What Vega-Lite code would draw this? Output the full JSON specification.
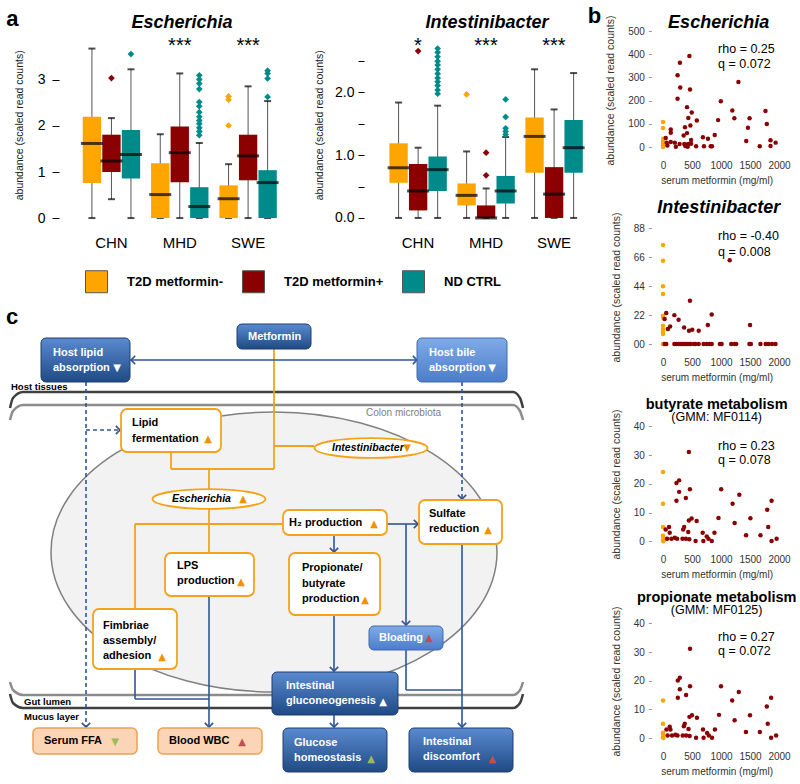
{
"$schema": "https://vega.github.io/schema/vega-lite/v6.json",
"background": "white",
"padding": {"left": 5, "top": 4, "right": 0, "bottom": 0},
"config": {
  "font": "Liberation Sans",
  "view": {"stroke": null},
  "axis": {"grid": false, "domain": false, "labelFont": "Liberation Sans", "titleFont": "Liberation Sans", "titleFontWeight": "normal", "labelFlush": false, "labelOverlap": false},
  "title": {"font": "Liberation Sans", "color": "black", "subtitleFont": "Liberation Sans", "subtitleColor": "black"},
  "legend": {"labelFont": "Liberation Sans"},
  "text": {"font": "Liberation Sans"}
},
"datasets": {
  "boxE": [
    {"cohort": "CHN", "group": "T2D metformin-", "lo": 0, "q1": 0.76, "med": 1.62, "q3": 2.20, "hi": 3.68},
    {"cohort": "CHN", "group": "T2D metformin+", "lo": 0.41, "q1": 1.0, "med": 1.24, "q3": 1.81, "hi": 2.17},
    {"cohort": "CHN", "group": "ND CTRL", "lo": 0, "q1": 0.86, "med": 1.38, "q3": 1.91, "hi": 3.23},
    {"cohort": "MHD", "group": "T2D metformin-", "lo": 0, "q1": 0, "med": 0.51, "q3": 1.19, "hi": 1.82},
    {"cohort": "MHD", "group": "T2D metformin+", "lo": 0, "q1": 0.78, "med": 1.42, "q3": 1.99, "hi": 3.14},
    {"cohort": "MHD", "group": "ND CTRL", "lo": 0, "q1": 0, "med": 0.25, "q3": 0.67, "hi": 1.63},
    {"cohort": "SWE", "group": "T2D metformin-", "lo": 0, "q1": 0, "med": 0.42, "q3": 0.71, "hi": 1.17},
    {"cohort": "SWE", "group": "T2D metformin+", "lo": 0, "q1": 0.82, "med": 1.35, "q3": 1.81, "hi": 2.86},
    {"cohort": "SWE", "group": "ND CTRL", "lo": 0, "q1": 0, "med": 0.77, "q3": 1.04, "hi": 2.54}
  ],
  "outE": [
    {"cohort": "CHN", "group": "T2D metformin+", "value": 3.04},
    {"cohort": "CHN", "group": "ND CTRL", "value": 3.56},
    {"cohort": "MHD", "group": "ND CTRL", "value": 3.10},
    {"cohort": "MHD", "group": "ND CTRL", "value": 3.01},
    {"cohort": "MHD", "group": "ND CTRL", "value": 2.92},
    {"cohort": "MHD", "group": "ND CTRL", "value": 2.80},
    {"cohort": "MHD", "group": "ND CTRL", "value": 2.52},
    {"cohort": "MHD", "group": "ND CTRL", "value": 2.43},
    {"cohort": "MHD", "group": "ND CTRL", "value": 2.30},
    {"cohort": "MHD", "group": "ND CTRL", "value": 2.20},
    {"cohort": "MHD", "group": "ND CTRL", "value": 2.12},
    {"cohort": "MHD", "group": "ND CTRL", "value": 2.05},
    {"cohort": "MHD", "group": "ND CTRL", "value": 1.96},
    {"cohort": "MHD", "group": "ND CTRL", "value": 1.88},
    {"cohort": "MHD", "group": "ND CTRL", "value": 1.80},
    {"cohort": "SWE", "group": "T2D metformin-", "value": 2.64},
    {"cohort": "SWE", "group": "T2D metformin-", "value": 2.57},
    {"cohort": "SWE", "group": "T2D metformin-", "value": 2.01},
    {"cohort": "SWE", "group": "ND CTRL", "value": 3.20},
    {"cohort": "SWE", "group": "ND CTRL", "value": 3.14},
    {"cohort": "SWE", "group": "ND CTRL", "value": 3.03},
    {"cohort": "SWE", "group": "ND CTRL", "value": 2.63}
  ],
  "starsE": [{"cohort": "MHD", "label": "***"}, {"cohort": "SWE", "label": "***"}],
  "boxI": [
    {"cohort": "CHN", "group": "T2D metformin-", "lo": 0, "q1": 0.56, "med": 0.80, "q3": 1.19, "hi": 1.84},
    {"cohort": "CHN", "group": "T2D metformin+", "lo": 0, "q1": 0.12, "med": 0.43, "q3": 0.86, "hi": 1.12},
    {"cohort": "CHN", "group": "ND CTRL", "lo": 0, "q1": 0.43, "med": 0.77, "q3": 0.98, "hi": 1.79},
    {"cohort": "MHD", "group": "T2D metformin-", "lo": 0, "q1": 0.20, "med": 0.36, "q3": 0.55, "hi": 1.06},
    {"cohort": "MHD", "group": "T2D metformin+", "lo": 0, "q1": 0, "med": 0, "q3": 0.20, "hi": 0.47},
    {"cohort": "MHD", "group": "ND CTRL", "lo": 0, "q1": 0.23, "med": 0.43, "q3": 0.67, "hi": 1.29},
    {"cohort": "SWE", "group": "T2D metformin-", "lo": 0, "q1": 0.72, "med": 1.30, "q3": 1.60, "hi": 2.37},
    {"cohort": "SWE", "group": "T2D metformin+", "lo": 0, "q1": 0, "med": 0.38, "q3": 0.81, "hi": 1.73},
    {"cohort": "SWE", "group": "ND CTRL", "lo": 0, "q1": 0.72, "med": 1.12, "q3": 1.56, "hi": 2.31}
  ],
  "outI": [
    {"cohort": "CHN", "group": "T2D metformin+", "value": 2.66},
    {"cohort": "CHN", "group": "ND CTRL", "value": 2.70},
    {"cohort": "CHN", "group": "ND CTRL", "value": 2.64},
    {"cohort": "CHN", "group": "ND CTRL", "value": 2.57},
    {"cohort": "CHN", "group": "ND CTRL", "value": 2.50},
    {"cohort": "CHN", "group": "ND CTRL", "value": 2.44},
    {"cohort": "CHN", "group": "ND CTRL", "value": 2.37},
    {"cohort": "CHN", "group": "ND CTRL", "value": 2.30},
    {"cohort": "CHN", "group": "ND CTRL", "value": 2.23},
    {"cohort": "CHN", "group": "ND CTRL", "value": 2.17},
    {"cohort": "CHN", "group": "ND CTRL", "value": 2.11},
    {"cohort": "CHN", "group": "ND CTRL", "value": 2.04},
    {"cohort": "CHN", "group": "ND CTRL", "value": 1.98},
    {"cohort": "MHD", "group": "T2D metformin-", "value": 1.97},
    {"cohort": "MHD", "group": "T2D metformin+", "value": 1.04},
    {"cohort": "MHD", "group": "T2D metformin+", "value": 0.68},
    {"cohort": "MHD", "group": "ND CTRL", "value": 1.89},
    {"cohort": "MHD", "group": "ND CTRL", "value": 1.61},
    {"cohort": "MHD", "group": "ND CTRL", "value": 1.43},
    {"cohort": "MHD", "group": "ND CTRL", "value": 1.38},
    {"cohort": "MHD", "group": "ND CTRL", "value": 1.33}
  ],
  "starsI": [{"cohort": "CHN", "label": "*"}, {"cohort": "MHD", "label": "***"}, {"cohort": "SWE", "label": "***"}],
  "scE": [
    {"metformin": 0, "abundance": 108, "group": "T2D metformin-"},
    {"metformin": 0, "abundance": 82, "group": "T2D metformin-"},
    {"metformin": 5, "abundance": 36, "group": "T2D metformin-"},
    {"metformin": 0, "abundance": 24, "group": "T2D metformin-"},
    {"metformin": 5, "abundance": 17, "group": "T2D metformin-"},
    {"metformin": 0, "abundance": 10, "group": "T2D metformin-"},
    {"metformin": 5, "abundance": 4, "group": "T2D metformin-"},
    {"metformin": 0, "abundance": 0, "group": "T2D metformin-"},
    {"metformin": 455, "abundance": 392, "group": "T2D metformin+"},
    {"metformin": 292, "abundance": 363, "group": "T2D metformin+"},
    {"metformin": 251, "abundance": 309, "group": "T2D metformin+"},
    {"metformin": 297, "abundance": 257, "group": "T2D metformin+"},
    {"metformin": 466, "abundance": 248, "group": "T2D metformin+"},
    {"metformin": 251, "abundance": 208, "group": "T2D metformin+"},
    {"metformin": 1300, "abundance": 280, "group": "T2D metformin+"},
    {"metformin": 997, "abundance": 197, "group": "T2D metformin+"},
    {"metformin": 414, "abundance": 172, "group": "T2D metformin+"},
    {"metformin": 1195, "abundance": 157, "group": "T2D metformin+"},
    {"metformin": 1767, "abundance": 155, "group": "T2D metformin+"},
    {"metformin": 496, "abundance": 149, "group": "T2D metformin+"},
    {"metformin": 437, "abundance": 125, "group": "T2D metformin+"},
    {"metformin": 583, "abundance": 114, "group": "T2D metformin+"},
    {"metformin": 1230, "abundance": 124, "group": "T2D metformin+"},
    {"metformin": 1493, "abundance": 124, "group": "T2D metformin+"},
    {"metformin": 950, "abundance": 116, "group": "T2D metformin+"},
    {"metformin": 1790, "abundance": 99, "group": "T2D metformin+"},
    {"metformin": 379, "abundance": 85, "group": "T2D metformin+"},
    {"metformin": 1464, "abundance": 83, "group": "T2D metformin+"},
    {"metformin": 472, "abundance": 93, "group": "T2D metformin+"},
    {"metformin": 134, "abundance": 76, "group": "T2D metformin+"},
    {"metformin": 134, "abundance": 62, "group": "T2D metformin+"},
    {"metformin": 356, "abundance": 50, "group": "T2D metformin+"},
    {"metformin": 414, "abundance": 60, "group": "T2D metformin+"},
    {"metformin": 892, "abundance": 52, "group": "T2D metformin+"},
    {"metformin": 688, "abundance": 42, "group": "T2D metformin+"},
    {"metformin": 776, "abundance": 36, "group": "T2D metformin+"},
    {"metformin": 47, "abundance": 39, "group": "T2D metformin+"},
    {"metformin": 484, "abundance": 30, "group": "T2D metformin+"},
    {"metformin": 1435, "abundance": 26, "group": "T2D metformin+"},
    {"metformin": 1854, "abundance": 29, "group": "T2D metformin+"},
    {"metformin": 1942, "abundance": 19, "group": "T2D metformin+"},
    {"metformin": 134, "abundance": 22, "group": "T2D metformin+"},
    {"metformin": 204, "abundance": 19, "group": "T2D metformin+"},
    {"metformin": 286, "abundance": 13, "group": "T2D metformin+"},
    {"metformin": 367, "abundance": 13, "group": "T2D metformin+"},
    {"metformin": 414, "abundance": 10, "group": "T2D metformin+"},
    {"metformin": 437, "abundance": 13, "group": "T2D metformin+"},
    {"metformin": 484, "abundance": 14, "group": "T2D metformin+"},
    {"metformin": 76, "abundance": 7, "group": "T2D metformin+"},
    {"metformin": 222, "abundance": 1, "group": "T2D metformin+"},
    {"metformin": 385, "abundance": 4, "group": "T2D metformin+"},
    {"metformin": 426, "abundance": 1, "group": "T2D metformin+"},
    {"metformin": 571, "abundance": 3, "group": "T2D metformin+"},
    {"metformin": 706, "abundance": 3, "group": "T2D metformin+"},
    {"metformin": 822, "abundance": 3, "group": "T2D metformin+"},
    {"metformin": 845, "abundance": 3, "group": "T2D metformin+"},
    {"metformin": 1668, "abundance": 3, "group": "T2D metformin+"},
    {"metformin": 1854, "abundance": 4, "group": "T2D metformin+"},
    {"metformin": 64, "abundance": 19, "group": "T2D metformin+"}
  ],
  "scI": [
    {"metformin": 0, "abundance": 6.85, "group": "T2D metformin-"},
    {"metformin": 0, "abundance": 5.76, "group": "T2D metformin-"},
    {"metformin": 0, "abundance": 3.99, "group": "T2D metformin-"},
    {"metformin": 0, "abundance": 3.46, "group": "T2D metformin-"},
    {"metformin": 0, "abundance": 1.96, "group": "T2D metformin-"},
    {"metformin": 0, "abundance": 1.84, "group": "T2D metformin-"},
    {"metformin": 0, "abundance": 1.27, "group": "T2D metformin-"},
    {"metformin": 0, "abundance": 1.04, "group": "T2D metformin-"},
    {"metformin": 0, "abundance": 0.85, "group": "T2D metformin-"},
    {"metformin": 0, "abundance": 0.69, "group": "T2D metformin-"},
    {"metformin": 0, "abundance": 0, "group": "T2D metformin-"},
    {"metformin": 5, "abundance": 0, "group": "T2D metformin-"},
    {"metformin": 1150, "abundance": 5.8, "group": "T2D metformin+"},
    {"metformin": 465, "abundance": 3.0, "group": "T2D metformin+"},
    {"metformin": 840, "abundance": 2.05, "group": "T2D metformin+"},
    {"metformin": 773, "abundance": 1.31, "group": "T2D metformin+"},
    {"metformin": 1501, "abundance": 1.31, "group": "T2D metformin+"},
    {"metformin": 56, "abundance": 2.14, "group": "T2D metformin+"},
    {"metformin": 28, "abundance": 1.73, "group": "T2D metformin+"},
    {"metformin": 196, "abundance": 2.0, "group": "T2D metformin+"},
    {"metformin": 269, "abundance": 1.68, "group": "T2D metformin+"},
    {"metformin": 364, "abundance": 1.15, "group": "T2D metformin+"},
    {"metformin": 123, "abundance": 1.22, "group": "T2D metformin+"},
    {"metformin": 84, "abundance": 1.04, "group": "T2D metformin+"},
    {"metformin": 448, "abundance": 0.92, "group": "T2D metformin+"},
    {"metformin": 504, "abundance": 0.99, "group": "T2D metformin+"},
    {"metformin": 616, "abundance": 0.92, "group": "T2D metformin+"},
    {"metformin": 28, "abundance": 0, "group": "T2D metformin+"},
    {"metformin": 56, "abundance": 0, "group": "T2D metformin+"},
    {"metformin": 196, "abundance": 0, "group": "T2D metformin+"},
    {"metformin": 230, "abundance": 0, "group": "T2D metformin+"},
    {"metformin": 269, "abundance": 0, "group": "T2D metformin+"},
    {"metformin": 300, "abundance": 0, "group": "T2D metformin+"},
    {"metformin": 330, "abundance": 0, "group": "T2D metformin+"},
    {"metformin": 364, "abundance": 0, "group": "T2D metformin+"},
    {"metformin": 392, "abundance": 0, "group": "T2D metformin+"},
    {"metformin": 420, "abundance": 0, "group": "T2D metformin+"},
    {"metformin": 448, "abundance": 0, "group": "T2D metformin+"},
    {"metformin": 476, "abundance": 0, "group": "T2D metformin+"},
    {"metformin": 532, "abundance": 0, "group": "T2D metformin+"},
    {"metformin": 560, "abundance": 0, "group": "T2D metformin+"},
    {"metformin": 616, "abundance": 0, "group": "T2D metformin+"},
    {"metformin": 700, "abundance": 0, "group": "T2D metformin+"},
    {"metformin": 756, "abundance": 0, "group": "T2D metformin+"},
    {"metformin": 800, "abundance": 0, "group": "T2D metformin+"},
    {"metformin": 840, "abundance": 0, "group": "T2D metformin+"},
    {"metformin": 980, "abundance": 0, "group": "T2D metformin+"},
    {"metformin": 1010, "abundance": 0, "group": "T2D metformin+"},
    {"metformin": 1176, "abundance": 0, "group": "T2D metformin+"},
    {"metformin": 1232, "abundance": 0, "group": "T2D metformin+"},
    {"metformin": 1262, "abundance": 0, "group": "T2D metformin+"},
    {"metformin": 1490, "abundance": 0, "group": "T2D metformin+"},
    {"metformin": 1515, "abundance": 0, "group": "T2D metformin+"},
    {"metformin": 1680, "abundance": 0, "group": "T2D metformin+"},
    {"metformin": 1770, "abundance": 0, "group": "T2D metformin+"},
    {"metformin": 1820, "abundance": 0, "group": "T2D metformin+"},
    {"metformin": 1880, "abundance": 0, "group": "T2D metformin+"},
    {"metformin": 1940, "abundance": 0, "group": "T2D metformin+"}
  ],
  "scB": [
    {"metformin": 0, "abundance": 24.1, "group": "T2D metformin-"},
    {"metformin": 0, "abundance": 13.1, "group": "T2D metformin-"},
    {"metformin": 0, "abundance": 5.0, "group": "T2D metformin-"},
    {"metformin": 0, "abundance": 1.9, "group": "T2D metformin-"},
    {"metformin": 5, "abundance": 1.2, "group": "T2D metformin-"},
    {"metformin": 0, "abundance": 0.3, "group": "T2D metformin-"},
    {"metformin": 5, "abundance": 0, "group": "T2D metformin-"},
    {"metformin": 446, "abundance": 31.1, "group": "T2D metformin+"},
    {"metformin": 278, "abundance": 21.2, "group": "T2D metformin+"},
    {"metformin": 232, "abundance": 20.3, "group": "T2D metformin+"},
    {"metformin": 278, "abundance": 17.2, "group": "T2D metformin+"},
    {"metformin": 464, "abundance": 18.1, "group": "T2D metformin+"},
    {"metformin": 1003, "abundance": 18.1, "group": "T2D metformin+"},
    {"metformin": 1316, "abundance": 16.2, "group": "T2D metformin+"},
    {"metformin": 232, "abundance": 14.1, "group": "T2D metformin+"},
    {"metformin": 394, "abundance": 15.1, "group": "T2D metformin+"},
    {"metformin": 1200, "abundance": 13.1, "group": "T2D metformin+"},
    {"metformin": 1872, "abundance": 14.1, "group": "T2D metformin+"},
    {"metformin": 1797, "abundance": 11.0, "group": "T2D metformin+"},
    {"metformin": 1507, "abundance": 8.0, "group": "T2D metformin+"},
    {"metformin": 957, "abundance": 8.1, "group": "T2D metformin+"},
    {"metformin": 1235, "abundance": 6.4, "group": "T2D metformin+"},
    {"metformin": 493, "abundance": 7.9, "group": "T2D metformin+"},
    {"metformin": 446, "abundance": 7.2, "group": "T2D metformin+"},
    {"metformin": 580, "abundance": 7.1, "group": "T2D metformin+"},
    {"metformin": 365, "abundance": 5.0, "group": "T2D metformin+"},
    {"metformin": 1814, "abundance": 5.0, "group": "T2D metformin+"},
    {"metformin": 104, "abundance": 5.0, "group": "T2D metformin+"},
    {"metformin": 348, "abundance": 4.1, "group": "T2D metformin+"},
    {"metformin": 46, "abundance": 4.1, "group": "T2D metformin+"},
    {"metformin": 684, "abundance": 3.0, "group": "T2D metformin+"},
    {"metformin": 887, "abundance": 3.0, "group": "T2D metformin+"},
    {"metformin": 435, "abundance": 3.2, "group": "T2D metformin+"},
    {"metformin": 1432, "abundance": 2.1, "group": "T2D metformin+"},
    {"metformin": 1681, "abundance": 2.1, "group": "T2D metformin+"},
    {"metformin": 116, "abundance": 3.0, "group": "T2D metformin+"},
    {"metformin": 754, "abundance": 1.7, "group": "T2D metformin+"},
    {"metformin": 783, "abundance": 0.9, "group": "T2D metformin+"},
    {"metformin": 841, "abundance": 0.1, "group": "T2D metformin+"},
    {"metformin": 696, "abundance": 0.1, "group": "T2D metformin+"},
    {"metformin": 562, "abundance": 0.1, "group": "T2D metformin+"},
    {"metformin": 394, "abundance": 0.9, "group": "T2D metformin+"},
    {"metformin": 452, "abundance": 0.7, "group": "T2D metformin+"},
    {"metformin": 203, "abundance": 1.2, "group": "T2D metformin+"},
    {"metformin": 145, "abundance": 0.9, "group": "T2D metformin+"},
    {"metformin": 70, "abundance": 0.9, "group": "T2D metformin+"},
    {"metformin": 243, "abundance": 0.9, "group": "T2D metformin+"},
    {"metformin": 336, "abundance": 0.9, "group": "T2D metformin+"},
    {"metformin": 1872, "abundance": 0.1, "group": "T2D metformin+"},
    {"metformin": 1959, "abundance": 0.9, "group": "T2D metformin+"}
  ],
  "scP": [
    {"metformin": 0, "abundance": 13.1, "group": "T2D metformin-"},
    {"metformin": 0, "abundance": 5.0, "group": "T2D metformin-"},
    {"metformin": 0, "abundance": 1.9, "group": "T2D metformin-"},
    {"metformin": 5, "abundance": 1.2, "group": "T2D metformin-"},
    {"metformin": 0, "abundance": 0.3, "group": "T2D metformin-"},
    {"metformin": 5, "abundance": 0, "group": "T2D metformin-"},
    {"metformin": 466, "abundance": 31.1, "group": "T2D metformin+"},
    {"metformin": 290, "abundance": 21.0, "group": "T2D metformin+"},
    {"metformin": 256, "abundance": 20.1, "group": "T2D metformin+"},
    {"metformin": 290, "abundance": 17.0, "group": "T2D metformin+"},
    {"metformin": 466, "abundance": 18.1, "group": "T2D metformin+"},
    {"metformin": 1000, "abundance": 18.1, "group": "T2D metformin+"},
    {"metformin": 1307, "abundance": 16.1, "group": "T2D metformin+"},
    {"metformin": 256, "abundance": 14.1, "group": "T2D metformin+"},
    {"metformin": 398, "abundance": 15.0, "group": "T2D metformin+"},
    {"metformin": 1193, "abundance": 13.1, "group": "T2D metformin+"},
    {"metformin": 1864, "abundance": 14.1, "group": "T2D metformin+"},
    {"metformin": 1790, "abundance": 11.0, "group": "T2D metformin+"},
    {"metformin": 1500, "abundance": 8.0, "group": "T2D metformin+"},
    {"metformin": 966, "abundance": 8.1, "group": "T2D metformin+"},
    {"metformin": 1235, "abundance": 6.2, "group": "T2D metformin+"},
    {"metformin": 500, "abundance": 8.0, "group": "T2D metformin+"},
    {"metformin": 456, "abundance": 7.4, "group": "T2D metformin+"},
    {"metformin": 585, "abundance": 7.1, "group": "T2D metformin+"},
    {"metformin": 375, "abundance": 5.0, "group": "T2D metformin+"},
    {"metformin": 1806, "abundance": 5.0, "group": "T2D metformin+"},
    {"metformin": 116, "abundance": 4.0, "group": "T2D metformin+"},
    {"metformin": 360, "abundance": 4.1, "group": "T2D metformin+"},
    {"metformin": 60, "abundance": 3.0, "group": "T2D metformin+"},
    {"metformin": 690, "abundance": 3.0, "group": "T2D metformin+"},
    {"metformin": 895, "abundance": 3.0, "group": "T2D metformin+"},
    {"metformin": 440, "abundance": 3.2, "group": "T2D metformin+"},
    {"metformin": 1430, "abundance": 2.1, "group": "T2D metformin+"},
    {"metformin": 1670, "abundance": 2.1, "group": "T2D metformin+"},
    {"metformin": 128, "abundance": 3.0, "group": "T2D metformin+"},
    {"metformin": 760, "abundance": 1.8, "group": "T2D metformin+"},
    {"metformin": 790, "abundance": 0.9, "group": "T2D metformin+"},
    {"metformin": 845, "abundance": 0.1, "group": "T2D metformin+"},
    {"metformin": 700, "abundance": 0.1, "group": "T2D metformin+"},
    {"metformin": 570, "abundance": 0.1, "group": "T2D metformin+"},
    {"metformin": 400, "abundance": 0.9, "group": "T2D metformin+"},
    {"metformin": 460, "abundance": 0.7, "group": "T2D metformin+"},
    {"metformin": 215, "abundance": 1.2, "group": "T2D metformin+"},
    {"metformin": 155, "abundance": 0.9, "group": "T2D metformin+"},
    {"metformin": 80, "abundance": 0.9, "group": "T2D metformin+"},
    {"metformin": 250, "abundance": 0.9, "group": "T2D metformin+"},
    {"metformin": 340, "abundance": 0.9, "group": "T2D metformin+"},
    {"metformin": 1864, "abundance": 0.1, "group": "T2D metformin+"},
    {"metformin": 1950, "abundance": 0.9, "group": "T2D metformin+"}
  ],
  "dgBoxes": [
    {"name": "Metformin", "kind": "dark", "x1": 236, "x2": 310, "y1": 322, "y2": 347},
    {"name": "Host lipid absorption", "kind": "dark", "x1": 40, "x2": 129, "y1": 336, "y2": 380},
    {"name": "Host bile absorption", "kind": "light", "x1": 416, "x2": 506, "y1": 336, "y2": 380},
    {"name": "Lipid fermentation", "kind": "microbe", "x1": 120, "x2": 220, "y1": 407, "y2": 450},
    {"name": "Sulfate reduction", "kind": "microbe", "x1": 418, "x2": 501, "y1": 498, "y2": 542},
    {"name": "H2 production", "kind": "microbe", "x1": 282, "x2": 386, "y1": 508, "y2": 533},
    {"name": "LPS production", "kind": "microbe", "x1": 164, "x2": 253, "y1": 551, "y2": 594},
    {"name": "Propionate/butyrate production", "kind": "microbe", "x1": 288, "x2": 379, "y1": 551, "y2": 613},
    {"name": "Fimbriae assembly/adhesion", "kind": "microbe", "x1": 92, "x2": 176, "y1": 607, "y2": 667},
    {"name": "Bloating", "kind": "light", "x1": 368, "x2": 442, "y1": 624, "y2": 648},
    {"name": "Intestinal gluconeogenesis", "kind": "dark", "x1": 271, "x2": 397, "y1": 670, "y2": 713},
    {"name": "Serum FFA", "kind": "blood", "x1": 32, "x2": 136, "y1": 726, "y2": 752},
    {"name": "Blood WBC", "kind": "blood", "x1": 157, "x2": 261, "y1": 726, "y2": 752},
    {"name": "Glucose homeostasis", "kind": "dark", "x1": 282, "x2": 386, "y1": 726, "y2": 770},
    {"name": "Intestinal discomfort", "kind": "dark", "x1": 408, "x2": 512, "y1": 726, "y2": 770}
  ],
  "dgLinks": [
    {"kind": "orange", "x1": 273, "y1": 347, "x2": 273, "y2": 467},
    {"kind": "orange", "x1": 273, "y1": 444, "x2": 313, "y2": 444},
    {"kind": "orange", "x1": 170, "y1": 450, "x2": 170, "y2": 467},
    {"kind": "orange", "x1": 170, "y1": 467, "x2": 273, "y2": 467},
    {"kind": "orange", "x1": 208, "y1": 467, "x2": 208, "y2": 487},
    {"kind": "orange", "x1": 208, "y1": 507, "x2": 208, "y2": 551},
    {"kind": "orange", "x1": 134, "y1": 522, "x2": 282, "y2": 522},
    {"kind": "orange", "x1": 134, "y1": 522, "x2": 134, "y2": 607},
    {"kind": "blue", "x1": 130, "y1": 358, "x2": 416, "y2": 358},
    {"kind": "blue", "x1": 333, "y1": 533, "x2": 333, "y2": 550},
    {"kind": "blue", "x1": 386, "y1": 522, "x2": 417, "y2": 522},
    {"kind": "blue", "x1": 405, "y1": 522, "x2": 405, "y2": 623},
    {"kind": "blue", "x1": 461, "y1": 542, "x2": 461, "y2": 725},
    {"kind": "blue", "x1": 405, "y1": 648, "x2": 405, "y2": 688},
    {"kind": "blue", "x1": 405, "y1": 688, "x2": 461, "y2": 688},
    {"kind": "blue", "x1": 208, "y1": 594, "x2": 208, "y2": 725},
    {"kind": "blue", "x1": 134, "y1": 667, "x2": 134, "y2": 697},
    {"kind": "blue", "x1": 134, "y1": 697, "x2": 208, "y2": 697},
    {"kind": "blue", "x1": 333, "y1": 613, "x2": 333, "y2": 669},
    {"kind": "blue", "x1": 333, "y1": 713, "x2": 333, "y2": 725},
    {"kind": "dashed", "x1": 85, "y1": 380, "x2": 85, "y2": 725},
    {"kind": "dashed", "x1": 85, "y1": 428, "x2": 118, "y2": 428},
    {"kind": "dashed", "x1": 461, "y1": 380, "x2": 461, "y2": 497}
  ],
  "dgArrows": [
    {"x": 130, "y": 358, "dir": "left"},
    {"x": 416, "y": 358, "dir": "right"},
    {"x": 333, "y": 550, "dir": "down"},
    {"x": 417, "y": 522, "dir": "right"},
    {"x": 405, "y": 623, "dir": "down"},
    {"x": 461, "y": 725, "dir": "down"},
    {"x": 208, "y": 725, "dir": "down"},
    {"x": 333, "y": 669, "dir": "down"},
    {"x": 333, "y": 725, "dir": "down"},
    {"x": 85, "y": 725, "dir": "down"},
    {"x": 119, "y": 428, "dir": "right"},
    {"x": 461, "y": 497, "dir": "down"}
  ],
  "dgBrackets": [
    {"id": "host tissues", "tone": "dark", "ord": 1, "x": 9, "y": 406},
    {"id": "host tissues", "tone": "dark", "ord": 2, "x": 12, "y": 396},
    {"id": "host tissues", "tone": "dark", "ord": 3, "x": 22, "y": 390},
    {"id": "host tissues", "tone": "dark", "ord": 4, "x": 512, "y": 390},
    {"id": "host tissues", "tone": "dark", "ord": 5, "x": 519, "y": 396},
    {"id": "host tissues", "tone": "dark", "ord": 6, "x": 522, "y": 406},
    {"id": "colon", "tone": "gray", "ord": 1, "x": 9, "y": 418},
    {"id": "colon", "tone": "gray", "ord": 2, "x": 12, "y": 409},
    {"id": "colon", "tone": "gray", "ord": 3, "x": 22, "y": 403},
    {"id": "colon", "tone": "gray", "ord": 4, "x": 512, "y": 403},
    {"id": "colon", "tone": "gray", "ord": 5, "x": 519, "y": 409},
    {"id": "colon", "tone": "gray", "ord": 6, "x": 522, "y": 418},
    {"id": "gut lumen", "tone": "gray", "ord": 1, "x": 9, "y": 680},
    {"id": "gut lumen", "tone": "gray", "ord": 2, "x": 12, "y": 688},
    {"id": "gut lumen", "tone": "gray", "ord": 3, "x": 22, "y": 693},
    {"id": "gut lumen", "tone": "gray", "ord": 4, "x": 512, "y": 693},
    {"id": "gut lumen", "tone": "gray", "ord": 5, "x": 519, "y": 688},
    {"id": "gut lumen", "tone": "gray", "ord": 6, "x": 522, "y": 680},
    {"id": "mucus", "tone": "dark", "ord": 1, "x": 9, "y": 692},
    {"id": "mucus", "tone": "dark", "ord": 2, "x": 12, "y": 701},
    {"id": "mucus", "tone": "dark", "ord": 3, "x": 22, "y": 706},
    {"id": "mucus", "tone": "dark", "ord": 4, "x": 512, "y": 706},
    {"id": "mucus", "tone": "dark", "ord": 5, "x": 519, "y": 701},
    {"id": "mucus", "tone": "dark", "ord": 6, "x": 522, "y": 692}
  ],
  "dgTexts": [
    {"x": 5, "y": 315, "text": "c", "style": "letter"},
    {"x": 247, "y": 335, "text": "Metformin", "style": "white"},
    {"x": 52, "y": 351, "text": "Host lipid", "style": "white"},
    {"x": 52, "y": 366, "text": "absorption", "style": "white"},
    {"x": 428, "y": 351, "text": "Host bile", "style": "white"},
    {"x": 428, "y": 366, "text": "absorption", "style": "white"},
    {"x": 10, "y": 385, "text": "Host tissues", "style": "small"},
    {"x": 365, "y": 411, "text": "Colon microbiota", "style": "gray"},
    {"x": 131, "y": 421, "text": "Lipid", "style": "black"},
    {"x": 131, "y": 437, "text": "fermentation", "style": "black"},
    {"x": 331, "y": 446, "text": "Intestinibacter", "style": "ital"},
    {"x": 171, "y": 497, "text": "Escherichia", "style": "ital"},
    {"x": 288, "y": 521, "text": "H₂ production", "style": "black"},
    {"x": 428, "y": 512, "text": "Sulfate", "style": "black"},
    {"x": 428, "y": 527, "text": "reduction", "style": "black"},
    {"x": 176, "y": 564, "text": "LPS", "style": "black"},
    {"x": 176, "y": 579, "text": "production", "style": "black"},
    {"x": 301, "y": 566, "text": "Propionate/", "style": "black"},
    {"x": 301, "y": 582, "text": "butyrate", "style": "black"},
    {"x": 301, "y": 597, "text": "production", "style": "black"},
    {"x": 102, "y": 624, "text": "Fimbriae", "style": "black"},
    {"x": 102, "y": 639, "text": "assembly/", "style": "black"},
    {"x": 102, "y": 654, "text": "adhesion", "style": "black"},
    {"x": 378, "y": 636, "text": "Bloating", "style": "white"},
    {"x": 285, "y": 684, "text": "Intestinal", "style": "white"},
    {"x": 285, "y": 699, "text": "gluconeogenesis", "style": "white"},
    {"x": 23, "y": 700, "text": "Gut lumen", "style": "small"},
    {"x": 23, "y": 715, "text": "Mucus layer", "style": "small"},
    {"x": 43, "y": 739, "text": "Serum FFA", "style": "black"},
    {"x": 168, "y": 739, "text": "Blood WBC", "style": "black"},
    {"x": 293, "y": 741, "text": "Glucose", "style": "white"},
    {"x": 293, "y": 756, "text": "homeostasis", "style": "white"},
    {"x": 422, "y": 740, "text": "Intestinal", "style": "white"},
    {"x": 422, "y": 755, "text": "discomfort", "style": "white"}
  ],
  "dgMarks": [
    {"x": 116, "y": 366, "symbol": "▼", "tone": "white"},
    {"x": 491, "y": 366, "symbol": "▼", "tone": "white"},
    {"x": 207, "y": 437, "symbol": "▲", "tone": "orange"},
    {"x": 406, "y": 446, "symbol": "▼", "tone": "orange"},
    {"x": 242, "y": 497, "symbol": "▲", "tone": "orange"},
    {"x": 373, "y": 522, "symbol": "▲", "tone": "orange"},
    {"x": 487, "y": 528, "symbol": "▲", "tone": "orange"},
    {"x": 240, "y": 580, "symbol": "▲", "tone": "orange"},
    {"x": 364, "y": 598, "symbol": "▲", "tone": "orange"},
    {"x": 161, "y": 655, "symbol": "▲", "tone": "orange"},
    {"x": 428, "y": 636, "symbol": "▲", "tone": "red"},
    {"x": 382, "y": 700, "symbol": "▲", "tone": "white"},
    {"x": 114, "y": 740, "symbol": "▼", "tone": "green"},
    {"x": 241, "y": 740, "symbol": "▲", "tone": "red"},
    {"x": 370, "y": 757, "symbol": "▲", "tone": "green"},
    {"x": 491, "y": 757, "symbol": "▲", "tone": "red"}
  ]
},
"bounds": "flush",
"spacing": 592.4,
"resolve": {"scale": {"color": "independent", "shape": "independent"}, "legend": {"color": "independent", "shape": "independent"}},
"hconcat": [
 {
  "bounds": "flush",
  "spacing": 276,
  "resolve": {"scale": {"color": "independent", "shape": "independent"}, "legend": {"color": "independent", "shape": "independent"}},
  "vconcat": [
   {
    "bounds": "flush",
    "spacing": 85,
    "resolve": {"scale": {"color": "independent", "shape": "independent"}, "legend": {"color": "independent", "shape": "independent"}},
    "title": {"text": "a", "anchor": "start", "frame": "bounds", "fontSize": 22, "fontWeight": "bold", "offset": -17, "dx": -8},
    "hconcat": [
     {
      "width": 220, "height": 197.6,
      "data": {"name": "boxE"},
      "title": {"text": "Escherichia", "fontSize": 18, "fontWeight": "bold", "fontStyle": "italic", "frame": "group", "dx": 13, "offset": -6},
      "encoding": {
        "x": {"field": "cohort", "type": "nominal", "sort": ["CHN", "MHD", "SWE"], "scale": {"paddingInner": 0.16, "paddingOuter": 0.19, "align": 0.915}, "axis": {"title": null, "labelAngle": 0, "labelFontSize": 15, "ticks": false, "labelPadding": 12, "labelColor": "black"}}
      },
      "layer": [
        {"mark": {"type": "rule", "color": "#555555", "strokeWidth": 1},
         "encoding": {
           "xOffset": {"field": "group", "type": "nominal", "sort": ["T2D metformin-", "T2D metformin+", "ND CTRL"], "scale": {"paddingInner": 0.06, "paddingOuter": 0}},
           "y": {"field": "lo", "type": "quantitative", "scale": {"domain": [-0.12, 4.17], "nice": false, "zero": false}, "axis": {"values": [0, 1, 2, 3], "labelOverlap": false, "tickSize": 7, "tickColor": "black", "labelFontSize": 14, "labelPadding": 7, "labelColor": "black", "title": "abundance (scaled read counts)", "titleFontSize": 10.5, "titlePadding": 13, "titleColor": "#222222"}},
           "y2": {"field": "hi"}}},
        {"mark": {"type": "tick", "color": "black", "thickness": 2, "size": 7},
         "encoding": {
           "xOffset": {"field": "group", "type": "nominal", "sort": ["T2D metformin-", "T2D metformin+", "ND CTRL"], "scale": {"paddingInner": 0.06, "paddingOuter": 0}},
           "y": {"field": "lo", "type": "quantitative", "scale": {"domain": [-0.12, 4.17], "nice": false, "zero": false}, "axis": {"values": [0, 1, 2, 3], "labelOverlap": false, "tickSize": 7, "tickColor": "black", "labelFontSize": 14, "labelPadding": 7, "labelColor": "black", "title": "abundance (scaled read counts)", "titleFontSize": 10.5, "titlePadding": 13, "titleColor": "#222222"}}}},
        {"mark": {"type": "tick", "color": "black", "thickness": 2, "size": 7},
         "encoding": {
           "xOffset": {"field": "group", "type": "nominal", "sort": ["T2D metformin-", "T2D metformin+", "ND CTRL"], "scale": {"paddingInner": 0.06, "paddingOuter": 0}},
           "y": {"field": "hi", "type": "quantitative", "scale": {"domain": [-0.12, 4.17], "nice": false, "zero": false}, "axis": {"values": [0, 1, 2, 3], "labelOverlap": false, "tickSize": 7, "tickColor": "black", "labelFontSize": 14, "labelPadding": 7, "labelColor": "black", "title": "abundance (scaled read counts)", "titleFontSize": 10.5, "titlePadding": 13, "titleColor": "#222222"}}}},
        {"mark": {"type": "bar", "opacity": 1},
         "encoding": {
           "xOffset": {"field": "group", "type": "nominal", "sort": ["T2D metformin-", "T2D metformin+", "ND CTRL"], "scale": {"paddingInner": 0.06, "paddingOuter": 0}},
           "y": {"field": "q1", "type": "quantitative", "scale": {"domain": [-0.12, 4.17], "nice": false, "zero": false}, "axis": {"values": [0, 1, 2, 3], "labelOverlap": false, "tickSize": 7, "tickColor": "black", "labelFontSize": 14, "labelPadding": 7, "labelColor": "black", "title": "abundance (scaled read counts)", "titleFontSize": 10.5, "titlePadding": 13, "titleColor": "#222222"}},
           "y2": {"field": "q3"},
           "color": {"field": "group", "type": "nominal", "scale": {"domain": ["T2D metformin-", "T2D metformin+", "ND CTRL"], "range": ["#FFA500", "#8B0000", "#008B8B"]},
             "legend": {"orient": "none", "legendX": 26, "legendY": 244, "direction": "horizontal", "title": null, "symbolType": "square", "symbolSize": 484, "symbolStrokeColor": "#555555", "symbolStrokeWidth": 1, "symbolOpacity": 1, "labelFontSize": 13, "labelFontWeight": "bold", "labelColor": "black", "labelOffset": 19, "columnPadding": 16, "labelLimit": 300}}}},
        {"mark": {"type": "tick", "color": "black", "thickness": 3, "size": 22},
         "encoding": {
           "xOffset": {"field": "group", "type": "nominal", "sort": ["T2D metformin-", "T2D metformin+", "ND CTRL"], "scale": {"paddingInner": 0.06, "paddingOuter": 0}},
           "y": {"field": "med", "type": "quantitative", "scale": {"domain": [-0.12, 4.17], "nice": false, "zero": false}, "axis": {"values": [0, 1, 2, 3], "labelOverlap": false, "tickSize": 7, "tickColor": "black", "labelFontSize": 14, "labelPadding": 7, "labelColor": "black", "title": "abundance (scaled read counts)", "titleFontSize": 10.5, "titlePadding": 13, "titleColor": "#222222"}}}},
        {"data": {"name": "outE"},
         "mark": {"type": "point", "shape": "diamond", "filled": true, "size": 45, "opacity": 1},
         "encoding": {
           "xOffset": {"field": "group", "type": "nominal", "sort": ["T2D metformin-", "T2D metformin+", "ND CTRL"], "scale": {"paddingInner": 0.06, "paddingOuter": 0}},
           "y": {"field": "value", "type": "quantitative", "scale": {"domain": [-0.12, 4.17], "nice": false, "zero": false}, "axis": {"values": [0, 1, 2, 3], "labelOverlap": false, "tickSize": 7, "tickColor": "black", "labelFontSize": 14, "labelPadding": 7, "labelColor": "black", "title": "abundance (scaled read counts)", "titleFontSize": 10.5, "titlePadding": 13, "titleColor": "#222222"}},
           "color": {"field": "group", "type": "nominal", "scale": {"domain": ["T2D metformin-", "T2D metformin+", "ND CTRL"], "range": ["#FFA500", "#8B0000", "#008B8B"]},
             "legend": {"orient": "none", "legendX": 26, "legendY": 244, "direction": "horizontal", "title": null, "symbolType": "square", "symbolSize": 484, "symbolStrokeColor": "#555555", "symbolStrokeWidth": 1, "symbolOpacity": 1, "labelFontSize": 13, "labelFontWeight": "bold", "labelColor": "black", "labelOffset": 19, "columnPadding": 16, "labelLimit": 300}}}},
        {"data": {"name": "starsE"},
         "mark": {"type": "text", "fontSize": 20, "baseline": "alphabetic", "color": "black"},
         "encoding": {
           "y": {"datum": 3.6, "type": "quantitative", "scale": {"domain": [-0.12, 4.17], "nice": false, "zero": false}, "axis": {"values": [0, 1, 2, 3], "labelOverlap": false, "tickSize": 7, "tickColor": "black", "labelFontSize": 14, "labelPadding": 7, "labelColor": "black", "title": "abundance (scaled read counts)", "titleFontSize": 10.5, "titlePadding": 13, "titleColor": "#222222"}},
           "text": {"field": "label"}}}
      ]
     },
     {
      "width": 222, "height": 197.6,
      "data": {"name": "boxI"},
      "title": {"text": "Intestinibacter", "fontSize": 18, "fontWeight": "bold", "fontStyle": "italic", "frame": "group", "dx": 12, "offset": -6},
      "encoding": {
        "x": {"field": "cohort", "type": "nominal", "sort": ["CHN", "MHD", "SWE"], "scale": {"paddingInner": 0.16, "paddingOuter": 0.2125, "align": 0.88}, "axis": {"title": null, "labelAngle": 0, "labelFontSize": 15, "ticks": false, "labelPadding": 12, "labelColor": "black"}}
      },
      "layer": [
        {"mark": {"type": "rule", "color": "#555555", "strokeWidth": 1},
         "encoding": {
           "xOffset": {"field": "group", "type": "nominal", "sort": ["T2D metformin-", "T2D metformin+", "ND CTRL"], "scale": {"paddingInner": 0.06, "paddingOuter": 0}},
           "y": {"field": "lo", "type": "quantitative", "scale": {"domain": [-0.09, 3.06], "nice": false, "zero": false}, "axis": {"values": [0, 0.5, 1, 1.5, 2, 2.5], "labelOverlap": false, "labelExpr": "datum.value % 1 === 0 ? format(datum.value, '.1f') : ''", "tickSize": 6, "tickColor": "black", "labelFontSize": 14, "labelPadding": 4, "labelColor": "black", "title": "abundance (scaled read counts)", "titleFontSize": 10.5, "titlePadding": 10, "titleColor": "#222222"}},
           "y2": {"field": "hi"}}},
        {"mark": {"type": "tick", "color": "black", "thickness": 2, "size": 7},
         "encoding": {
           "xOffset": {"field": "group", "type": "nominal", "sort": ["T2D metformin-", "T2D metformin+", "ND CTRL"], "scale": {"paddingInner": 0.06, "paddingOuter": 0}},
           "y": {"field": "lo", "type": "quantitative", "scale": {"domain": [-0.09, 3.06], "nice": false, "zero": false}, "axis": {"values": [0, 0.5, 1, 1.5, 2, 2.5], "labelOverlap": false, "labelExpr": "datum.value % 1 === 0 ? format(datum.value, '.1f') : ''", "tickSize": 6, "tickColor": "black", "labelFontSize": 14, "labelPadding": 4, "labelColor": "black", "title": "abundance (scaled read counts)", "titleFontSize": 10.5, "titlePadding": 10, "titleColor": "#222222"}}}},
        {"mark": {"type": "tick", "color": "black", "thickness": 2, "size": 7},
         "encoding": {
           "xOffset": {"field": "group", "type": "nominal", "sort": ["T2D metformin-", "T2D metformin+", "ND CTRL"], "scale": {"paddingInner": 0.06, "paddingOuter": 0}},
           "y": {"field": "hi", "type": "quantitative", "scale": {"domain": [-0.09, 3.06], "nice": false, "zero": false}, "axis": {"values": [0, 0.5, 1, 1.5, 2, 2.5], "labelOverlap": false, "labelExpr": "datum.value % 1 === 0 ? format(datum.value, '.1f') : ''", "tickSize": 6, "tickColor": "black", "labelFontSize": 14, "labelPadding": 4, "labelColor": "black", "title": "abundance (scaled read counts)", "titleFontSize": 10.5, "titlePadding": 10, "titleColor": "#222222"}}}},
        {"mark": {"type": "bar", "opacity": 1},
         "encoding": {
           "xOffset": {"field": "group", "type": "nominal", "sort": ["T2D metformin-", "T2D metformin+", "ND CTRL"], "scale": {"paddingInner": 0.06, "paddingOuter": 0}},
           "y": {"field": "q1", "type": "quantitative", "scale": {"domain": [-0.09, 3.06], "nice": false, "zero": false}, "axis": {"values": [0, 0.5, 1, 1.5, 2, 2.5], "labelOverlap": false, "labelExpr": "datum.value % 1 === 0 ? format(datum.value, '.1f') : ''", "tickSize": 6, "tickColor": "black", "labelFontSize": 14, "labelPadding": 4, "labelColor": "black", "title": "abundance (scaled read counts)", "titleFontSize": 10.5, "titlePadding": 10, "titleColor": "#222222"}},
           "y2": {"field": "q3"},
           "color": {"field": "group", "type": "nominal", "scale": {"domain": ["T2D metformin-", "T2D metformin+", "ND CTRL"], "range": ["#FFA500", "#8B0000", "#008B8B"]}, "legend": null}}},
        {"mark": {"type": "tick", "color": "black", "thickness": 3, "size": 22},
         "encoding": {
           "xOffset": {"field": "group", "type": "nominal", "sort": ["T2D metformin-", "T2D metformin+", "ND CTRL"], "scale": {"paddingInner": 0.06, "paddingOuter": 0}},
           "y": {"field": "med", "type": "quantitative", "scale": {"domain": [-0.09, 3.06], "nice": false, "zero": false}, "axis": {"values": [0, 0.5, 1, 1.5, 2, 2.5], "labelOverlap": false, "labelExpr": "datum.value % 1 === 0 ? format(datum.value, '.1f') : ''", "tickSize": 6, "tickColor": "black", "labelFontSize": 14, "labelPadding": 4, "labelColor": "black", "title": "abundance (scaled read counts)", "titleFontSize": 10.5, "titlePadding": 10, "titleColor": "#222222"}}}},
        {"data": {"name": "outI"},
         "mark": {"type": "point", "shape": "diamond", "filled": true, "size": 45, "opacity": 1},
         "encoding": {
           "xOffset": {"field": "group", "type": "nominal", "sort": ["T2D metformin-", "T2D metformin+", "ND CTRL"], "scale": {"paddingInner": 0.06, "paddingOuter": 0}},
           "y": {"field": "value", "type": "quantitative", "scale": {"domain": [-0.09, 3.06], "nice": false, "zero": false}, "axis": {"values": [0, 0.5, 1, 1.5, 2, 2.5], "labelOverlap": false, "labelExpr": "datum.value % 1 === 0 ? format(datum.value, '.1f') : ''", "tickSize": 6, "tickColor": "black", "labelFontSize": 14, "labelPadding": 4, "labelColor": "black", "title": "abundance (scaled read counts)", "titleFontSize": 10.5, "titlePadding": 10, "titleColor": "#222222"}},
           "color": {"field": "group", "type": "nominal", "scale": {"domain": ["T2D metformin-", "T2D metformin+", "ND CTRL"], "range": ["#FFA500", "#8B0000", "#008B8B"]}, "legend": null}}},
        {"data": {"name": "starsI"},
         "mark": {"type": "text", "fontSize": 20, "baseline": "alphabetic", "color": "black"},
         "encoding": {
           "y": {"datum": 2.64, "type": "quantitative", "scale": {"domain": [-0.09, 3.06], "nice": false, "zero": false}, "axis": {"values": [0, 0.5, 1, 1.5, 2, 2.5], "labelOverlap": false, "labelExpr": "datum.value % 1 === 0 ? format(datum.value, '.1f') : ''", "tickSize": 6, "tickColor": "black", "labelFontSize": 14, "labelPadding": 4, "labelColor": "black", "title": "abundance (scaled read counts)", "titleFontSize": 10.5, "titlePadding": 10, "titleColor": "#222222"}},
           "text": {"field": "label"}}}
      ]
     }
    ]
   },
   {
    "width": 532, "height": 475,
    "layer": [
      {"data": {"values": [{"region": "colon", "x": 273, "y": 550}]},
       "mark": {"type": "point", "shape": "M -1 0 C -1 -0.347 -0.552 -0.628 0 -0.628 C 0.552 -0.628 1 -0.347 1 0 C 1 0.347 0.552 0.628 0 0.628 C -0.552 0.628 -1 0.347 -1 0 Z", "size": 198916, "filled": true, "fill": "#F2F2F2", "stroke": "#808080", "strokeWidth": 1.5, "opacity": 1},
       "encoding": {
         "x": {"field": "x", "type": "quantitative", "scale": {"domain": [58, 590], "nice": false, "zero": false}, "axis": null},
         "y": {"field": "y", "type": "quantitative", "scale": {"domain": [300, 775], "nice": false, "zero": false, "reverse": true}, "axis": null}}},
      {"data": {"name": "dgBrackets"}, "transform": [{"filter": "datum.tone === 'dark'"}],
       "mark": {"type": "line", "interpolate": "monotone", "color": "#404040", "strokeWidth": 2.5},
       "encoding": {
         "x": {"field": "x", "type": "quantitative", "scale": {"domain": [58, 590], "nice": false, "zero": false}, "axis": null},
         "y": {"field": "y", "type": "quantitative", "scale": {"domain": [300, 775], "nice": false, "zero": false, "reverse": true}, "axis": null},
         "detail": {"field": "id"}, "order": {"field": "ord"}}},
      {"data": {"name": "dgBrackets"}, "transform": [{"filter": "datum.tone === 'gray'"}],
       "mark": {"type": "line", "interpolate": "monotone", "color": "#8C8C8C", "strokeWidth": 2.5},
       "encoding": {
         "x": {"field": "x", "type": "quantitative", "scale": {"domain": [58, 590], "nice": false, "zero": false}, "axis": null},
         "y": {"field": "y", "type": "quantitative", "scale": {"domain": [300, 775], "nice": false, "zero": false, "reverse": true}, "axis": null},
         "detail": {"field": "id"}, "order": {"field": "ord"}}},
      {"data": {"name": "dgLinks"}, "transform": [{"filter": "datum.kind === 'orange'"}],
       "mark": {"type": "rule", "color": "#F5A21B", "strokeWidth": 1.8},
       "encoding": {
         "x": {"field": "x1", "type": "quantitative", "scale": {"domain": [58, 590], "nice": false, "zero": false}, "axis": null},
         "y": {"field": "y1", "type": "quantitative", "scale": {"domain": [300, 775], "nice": false, "zero": false, "reverse": true}, "axis": null},
         "x2": {"field": "x2"}, "y2": {"field": "y2"}}},
      {"data": {"name": "dgLinks"}, "transform": [{"filter": "datum.kind === 'blue'"}],
       "mark": {"type": "rule", "color": "#2F5597", "strokeWidth": 1.6},
       "encoding": {
         "x": {"field": "x1", "type": "quantitative", "scale": {"domain": [58, 590], "nice": false, "zero": false}, "axis": null},
         "y": {"field": "y1", "type": "quantitative", "scale": {"domain": [300, 775], "nice": false, "zero": false, "reverse": true}, "axis": null},
         "x2": {"field": "x2"}, "y2": {"field": "y2"}}},
      {"data": {"name": "dgLinks"}, "transform": [{"filter": "datum.kind === 'dashed'"}],
       "mark": {"type": "rule", "color": "#2F5597", "strokeWidth": 1.6, "strokeDash": [4, 3]},
       "encoding": {
         "x": {"field": "x1", "type": "quantitative", "scale": {"domain": [58, 590], "nice": false, "zero": false}, "axis": null},
         "y": {"field": "y1", "type": "quantitative", "scale": {"domain": [300, 775], "nice": false, "zero": false, "reverse": true}, "axis": null},
         "x2": {"field": "x2"}, "y2": {"field": "y2"}}},
      {"data": {"name": "dgArrows"},
       "mark": {"type": "point", "filled": false, "stroke": "#2F5597", "strokeWidth": 1.6, "size": 70, "opacity": 1},
       "encoding": {
         "x": {"field": "x", "type": "quantitative", "scale": {"domain": [58, 590], "nice": false, "zero": false}, "axis": null},
         "y": {"field": "y", "type": "quantitative", "scale": {"domain": [300, 775], "nice": false, "zero": false, "reverse": true}, "axis": null},
         "shape": {"field": "dir", "type": "nominal", "scale": {"domain": ["down", "right", "left"], "range": ["M -1 -1 L 0 0 L 1 -1", "M -1 -1 L 0 0 L -1 1", "M 1 -1 L 0 0 L 1 1"]}, "legend": null}}},
      {"data": {"name": "dgBoxes"}, "transform": [{"filter": "datum.kind === 'dark'"}],
       "mark": {"type": "rect", "cornerRadius": 5, "stroke": "#1F3F70", "strokeWidth": 1, "fill": {"gradient": "linear", "x1": 0, "y1": 0, "x2": 0, "y2": 1, "stops": [{"offset": 0, "color": "#5A8AD0"}, {"offset": 1, "color": "#1F4A84"}]}},
       "encoding": {
         "x": {"field": "x1", "type": "quantitative", "scale": {"domain": [58, 590], "nice": false, "zero": false}, "axis": null},
         "y": {"field": "y1", "type": "quantitative", "scale": {"domain": [300, 775], "nice": false, "zero": false, "reverse": true}, "axis": null},
         "x2": {"field": "x2"}, "y2": {"field": "y2"}}},
      {"data": {"name": "dgBoxes"}, "transform": [{"filter": "datum.kind === 'light'"}],
       "mark": {"type": "rect", "cornerRadius": 5, "stroke": "#3E6AB0", "strokeWidth": 1, "fill": {"gradient": "linear", "x1": 0, "y1": 0, "x2": 0, "y2": 1, "stops": [{"offset": 0, "color": "#80ABE8"}, {"offset": 1, "color": "#4C7DC9"}]}},
       "encoding": {
         "x": {"field": "x1", "type": "quantitative", "scale": {"domain": [58, 590], "nice": false, "zero": false}, "axis": null},
         "y": {"field": "y1", "type": "quantitative", "scale": {"domain": [300, 775], "nice": false, "zero": false, "reverse": true}, "axis": null},
         "x2": {"field": "x2"}, "y2": {"field": "y2"}}},
      {"data": {"name": "dgBoxes"}, "transform": [{"filter": "datum.kind === 'microbe'"}],
       "mark": {"type": "rect", "cornerRadius": 6, "stroke": "#F5A21B", "strokeWidth": 1.8, "fill": "white"},
       "encoding": {
         "x": {"field": "x1", "type": "quantitative", "scale": {"domain": [58, 590], "nice": false, "zero": false}, "axis": null},
         "y": {"field": "y1", "type": "quantitative", "scale": {"domain": [300, 775], "nice": false, "zero": false, "reverse": true}, "axis": null},
         "x2": {"field": "x2"}, "y2": {"field": "y2"}}},
      {"data": {"name": "dgBoxes"}, "transform": [{"filter": "datum.kind === 'blood'"}],
       "mark": {"type": "rect", "cornerRadius": 5, "stroke": "#F0A050", "strokeWidth": 1.5, "fill": "#FBD5B5"},
       "encoding": {
         "x": {"field": "x1", "type": "quantitative", "scale": {"domain": [58, 590], "nice": false, "zero": false}, "axis": null},
         "y": {"field": "y1", "type": "quantitative", "scale": {"domain": [300, 775], "nice": false, "zero": false, "reverse": true}, "axis": null},
         "x2": {"field": "x2"}, "y2": {"field": "y2"}}},
      {"data": {"values": [{"taxon": "Escherichia", "x": 208, "y": 497}, {"taxon": "Intestinibacter", "x": 370, "y": 446}]},
       "mark": {"type": "point", "shape": "M -1 0 C -1 -0.0967 -0.552 -0.175 0 -0.175 C 0.552 -0.175 1 -0.0967 1 0 C 1 0.0967 0.552 0.175 0 0.175 C -0.552 0.175 -1 0.0967 -1 0 Z", "size": 12769, "filled": true, "fill": "white", "stroke": "#F5A21B", "strokeWidth": 1.8, "opacity": 1},
       "encoding": {
         "x": {"field": "x", "type": "quantitative", "scale": {"domain": [58, 590], "nice": false, "zero": false}, "axis": null},
         "y": {"field": "y", "type": "quantitative", "scale": {"domain": [300, 775], "nice": false, "zero": false, "reverse": true}, "axis": null}}},
      {"data": {"name": "dgTexts"}, "transform": [{"filter": "datum.style === 'white'"}],
       "mark": {"type": "text", "align": "left", "baseline": "middle", "fontSize": 11, "fontWeight": "bold", "color": "white"},
       "encoding": {
         "x": {"field": "x", "type": "quantitative", "scale": {"domain": [58, 590], "nice": false, "zero": false}, "axis": null},
         "y": {"field": "y", "type": "quantitative", "scale": {"domain": [300, 775], "nice": false, "zero": false, "reverse": true}, "axis": null},
         "text": {"field": "text"}}},
      {"data": {"name": "dgTexts"}, "transform": [{"filter": "datum.style === 'black'"}],
       "mark": {"type": "text", "align": "left", "baseline": "middle", "fontSize": 11, "fontWeight": "bold", "color": "black"},
       "encoding": {
         "x": {"field": "x", "type": "quantitative", "scale": {"domain": [58, 590], "nice": false, "zero": false}, "axis": null},
         "y": {"field": "y", "type": "quantitative", "scale": {"domain": [300, 775], "nice": false, "zero": false, "reverse": true}, "axis": null},
         "text": {"field": "text"}}},
      {"data": {"name": "dgTexts"}, "transform": [{"filter": "datum.style === 'ital'"}],
       "mark": {"type": "text", "align": "left", "baseline": "middle", "fontSize": 10.5, "fontWeight": "bold", "fontStyle": "italic", "color": "black"},
       "encoding": {
         "x": {"field": "x", "type": "quantitative", "scale": {"domain": [58, 590], "nice": false, "zero": false}, "axis": null},
         "y": {"field": "y", "type": "quantitative", "scale": {"domain": [300, 775], "nice": false, "zero": false, "reverse": true}, "axis": null},
         "text": {"field": "text"}}},
      {"data": {"name": "dgTexts"}, "transform": [{"filter": "datum.style === 'small'"}],
       "mark": {"type": "text", "align": "left", "baseline": "middle", "fontSize": 9.5, "fontWeight": "bold", "color": "black"},
       "encoding": {
         "x": {"field": "x", "type": "quantitative", "scale": {"domain": [58, 590], "nice": false, "zero": false}, "axis": null},
         "y": {"field": "y", "type": "quantitative", "scale": {"domain": [300, 775], "nice": false, "zero": false, "reverse": true}, "axis": null},
         "text": {"field": "text"}}},
      {"data": {"name": "dgTexts"}, "transform": [{"filter": "datum.style === 'gray'"}],
       "mark": {"type": "text", "align": "left", "baseline": "middle", "fontSize": 10, "color": "#808080"},
       "encoding": {
         "x": {"field": "x", "type": "quantitative", "scale": {"domain": [58, 590], "nice": false, "zero": false}, "axis": null},
         "y": {"field": "y", "type": "quantitative", "scale": {"domain": [300, 775], "nice": false, "zero": false, "reverse": true}, "axis": null},
         "text": {"field": "text"}}},
      {"data": {"name": "dgTexts"}, "transform": [{"filter": "datum.style === 'letter'"}],
       "mark": {"type": "text", "align": "left", "baseline": "middle", "fontSize": 22, "fontWeight": "bold", "color": "black"},
       "encoding": {
         "x": {"field": "x", "type": "quantitative", "scale": {"domain": [58, 590], "nice": false, "zero": false}, "axis": null},
         "y": {"field": "y", "type": "quantitative", "scale": {"domain": [300, 775], "nice": false, "zero": false, "reverse": true}, "axis": null},
         "text": {"field": "text"}}},
      {"data": {"name": "dgMarks"}, "transform": [{"filter": "datum.tone === 'orange'"}],
       "mark": {"type": "text", "align": "center", "baseline": "middle", "fontSize": 10, "color": "#F39200", "font": "DejaVu Sans"},
       "encoding": {
         "x": {"field": "x", "type": "quantitative", "scale": {"domain": [58, 590], "nice": false, "zero": false}, "axis": null},
         "y": {"field": "y", "type": "quantitative", "scale": {"domain": [300, 775], "nice": false, "zero": false, "reverse": true}, "axis": null},
         "text": {"field": "symbol"}}},
      {"data": {"name": "dgMarks"}, "transform": [{"filter": "datum.tone === 'red'"}],
       "mark": {"type": "text", "align": "center", "baseline": "middle", "fontSize": 10, "color": "#C0504D", "font": "DejaVu Sans"},
       "encoding": {
         "x": {"field": "x", "type": "quantitative", "scale": {"domain": [58, 590], "nice": false, "zero": false}, "axis": null},
         "y": {"field": "y", "type": "quantitative", "scale": {"domain": [300, 775], "nice": false, "zero": false, "reverse": true}, "axis": null},
         "text": {"field": "symbol"}}},
      {"data": {"name": "dgMarks"}, "transform": [{"filter": "datum.tone === 'green'"}],
       "mark": {"type": "text", "align": "center", "baseline": "middle", "fontSize": 10, "color": "#9BBB59", "font": "DejaVu Sans"},
       "encoding": {
         "x": {"field": "x", "type": "quantitative", "scale": {"domain": [58, 590], "nice": false, "zero": false}, "axis": null},
         "y": {"field": "y", "type": "quantitative", "scale": {"domain": [300, 775], "nice": false, "zero": false, "reverse": true}, "axis": null},
         "text": {"field": "symbol"}}},
      {"data": {"name": "dgMarks"}, "transform": [{"filter": "datum.tone === 'white'"}],
       "mark": {"type": "text", "align": "center", "baseline": "middle", "fontSize": 10, "color": "white", "font": "DejaVu Sans"},
       "encoding": {
         "x": {"field": "x", "type": "quantitative", "scale": {"domain": [58, 590], "nice": false, "zero": false}, "axis": null},
         "y": {"field": "y", "type": "quantitative", "scale": {"domain": [300, 775], "nice": false, "zero": false, "reverse": true}, "axis": null},
         "text": {"field": "symbol"}}}
    ]
   }
  ]
 },
 {
  "bounds": "flush",
  "spacing": 69,
  "resolve": {"scale": {"color": "independent", "shape": "independent"}, "legend": {"color": "independent", "shape": "independent"}},
  "title": {"text": "b", "anchor": "start", "frame": "bounds", "fontSize": 22, "fontWeight": "bold", "offset": -14, "dx": -18},
  "vconcat": [
   {
    "width": 130.5, "height": 128,
    "title": {"text": "Escherichia", "fontSize": 18, "fontWeight": "bold", "fontStyle": "italic", "frame": "group", "dx": 2, "offset": -17},
    "encoding": {
      "x": {"type": "quantitative", "scale": {"domain": [-200, 2050], "nice": false, "zero": false}, "axis": {"values": [0, 500, 1000, 1500, 2000], "format": "d", "labelOverlap": false, "ticks": false, "labelFontSize": 10, "labelColor": "#333333", "labelPadding": 6, "title": "serum metformin (mg/ml)", "titleFontSize": 10, "titleColor": "#333333", "titlePadding": 5}},
      "y": {"type": "quantitative", "scale": {"domain": [-30, 521.6], "nice": false, "zero": false}, "axis": {"values": [0, 100, 200, 300, 400, 500], "format": "d", "labelOverlap": false, "tickSize": 3, "tickColor": "#999999", "labelFontSize": 10, "labelColor": "#333333", "labelPadding": 4, "title": "abundance (scaled read counts)", "titleFontSize": 10.5, "titleColor": "#333333", "titlePadding": 12}}
    },
    "layer": [
      {"data": {"name": "scE"},
       "mark": {"type": "circle", "size": 20, "opacity": 1},
       "encoding": {
         "x": {"field": "metformin", "type": "quantitative", "scale": {"domain": [-200, 2050], "nice": false, "zero": false}, "axis": {"values": [0, 500, 1000, 1500, 2000], "format": "d", "labelOverlap": false, "ticks": false, "labelFontSize": 10, "labelColor": "#333333", "labelPadding": 6, "title": "serum metformin (mg/ml)", "titleFontSize": 10, "titleColor": "#333333", "titlePadding": 5}},
         "y": {"field": "abundance", "type": "quantitative", "scale": {"domain": [-30, 521.6], "nice": false, "zero": false}, "axis": {"values": [0, 100, 200, 300, 400, 500], "format": "d", "labelOverlap": false, "tickSize": 3, "tickColor": "#999999", "labelFontSize": 10, "labelColor": "#333333", "labelPadding": 4, "title": "abundance (scaled read counts)", "titleFontSize": 10.5, "titleColor": "#333333", "titlePadding": 12}},
         "color": {"field": "group", "type": "nominal", "scale": {"domain": ["T2D metformin-", "T2D metformin+", "ND CTRL"], "range": ["#FFA500", "#8B0000", "#008B8B"]}, "legend": null}}},
      {"data": {"values": [{"label": "rho = 0.25\nq = 0.072"}]},
       "mark": {"type": "text", "align": "left", "baseline": "middle", "fontSize": 12.5, "lineBreak": "\n", "lineHeight": 15, "color": "black"},
       "encoding": {
         "x": {"datum": 950, "type": "quantitative", "scale": {"domain": [-200, 2050], "nice": false, "zero": false}, "axis": {"values": [0, 500, 1000, 1500, 2000], "format": "d", "labelOverlap": false, "ticks": false, "labelFontSize": 10, "labelColor": "#333333", "labelPadding": 6, "title": "serum metformin (mg/ml)", "titleFontSize": 10, "titleColor": "#333333", "titlePadding": 5}},
         "y": {"datum": 422, "type": "quantitative", "scale": {"domain": [-30, 521.6], "nice": false, "zero": false}, "axis": {"values": [0, 100, 200, 300, 400, 500], "format": "d", "labelOverlap": false, "tickSize": 3, "tickColor": "#999999", "labelFontSize": 10, "labelColor": "#333333", "labelPadding": 4, "title": "abundance (scaled read counts)", "titleFontSize": 10.5, "titleColor": "#333333", "titlePadding": 12}},
         "text": {"field": "label"}}}
    ]
   },
   {
    "width": 130.5, "height": 128,
    "title": {"text": "Intestinibacter", "fontSize": 18, "fontWeight": "bold", "fontStyle": "italic", "frame": "group", "dx": 2, "offset": -5},
    "layer": [
      {"data": {"name": "scI"},
       "mark": {"type": "circle", "size": 20, "opacity": 1},
       "encoding": {
         "x": {"field": "metformin", "type": "quantitative", "scale": {"domain": [-200, 2050], "nice": false, "zero": false}, "axis": {"values": [0, 500, 1000, 1500, 2000], "format": "d", "labelOverlap": false, "ticks": false, "labelFontSize": 10, "labelColor": "#333333", "labelPadding": 6, "title": "serum metformin (mg/ml)", "titleFontSize": 10, "titleColor": "#333333", "titlePadding": 5}},
         "y": {"field": "abundance", "type": "quantitative", "scale": {"domain": [-0.48, 8.37], "nice": false, "zero": false}, "axis": {"values": [0, 2, 4, 6, 8], "labelOverlap": false, "labelExpr": "datum.value + '' + datum.value", "tickSize": 3, "tickColor": "#999999", "labelFontSize": 10, "labelColor": "#333333", "labelPadding": 4, "title": "abundance (scaled read counts)", "titleFontSize": 10.5, "titleColor": "#333333", "titlePadding": 12}},
         "color": {"field": "group", "type": "nominal", "scale": {"domain": ["T2D metformin-", "T2D metformin+", "ND CTRL"], "range": ["#FFA500", "#8B0000", "#008B8B"]}, "legend": null}}},
      {"data": {"values": [{"label": "rho = -0.40\nq = 0.008"}]},
       "mark": {"type": "text", "align": "left", "baseline": "middle", "fontSize": 12.5, "lineBreak": "\n", "lineHeight": 16, "color": "black"},
       "encoding": {
         "x": {"datum": 950, "type": "quantitative", "scale": {"domain": [-200, 2050], "nice": false, "zero": false}, "axis": {"values": [0, 500, 1000, 1500, 2000], "format": "d", "labelOverlap": false, "ticks": false, "labelFontSize": 10, "labelColor": "#333333", "labelPadding": 6, "title": "serum metformin (mg/ml)", "titleFontSize": 10, "titleColor": "#333333", "titlePadding": 5}},
         "y": {"datum": 7.49, "type": "quantitative", "scale": {"domain": [-0.48, 8.37], "nice": false, "zero": false}, "axis": {"values": [0, 2, 4, 6, 8], "labelOverlap": false, "labelExpr": "datum.value + '' + datum.value", "tickSize": 3, "tickColor": "#999999", "labelFontSize": 10, "labelColor": "#333333", "labelPadding": 4, "title": "abundance (scaled read counts)", "titleFontSize": 10.5, "titleColor": "#333333", "titlePadding": 12}},
         "text": {"field": "label"}}}
    ]
   },
   {
    "width": 130.5, "height": 128,
    "title": {"text": "butyrate metabolism", "subtitle": "(GMM: MF0114)", "fontSize": 14.5, "fontWeight": "bold", "subtitleFontSize": 12.5, "subtitlePadding": -1, "frame": "group", "dx": 0, "offset": -16},
    "layer": [
      {"data": {"name": "scB"},
       "mark": {"type": "circle", "size": 20, "opacity": 1},
       "encoding": {
         "x": {"field": "metformin", "type": "quantitative", "scale": {"domain": [-200, 2050], "nice": false, "zero": false}, "axis": {"values": [0, 500, 1000, 1500, 2000], "format": "d", "labelOverlap": false, "ticks": false, "labelFontSize": 10, "labelColor": "#333333", "labelPadding": 6, "title": "serum metformin (mg/ml)", "titleFontSize": 10, "titleColor": "#333333", "titlePadding": 5}},
         "y": {"field": "abundance", "type": "quantitative", "scale": {"domain": [-2.33, 42.2], "nice": false, "zero": false}, "axis": {"values": [0, 10, 20, 30, 40], "format": "d", "labelOverlap": false, "tickSize": 3, "tickColor": "#999999", "labelFontSize": 10, "labelColor": "#333333", "labelPadding": 4, "title": "abundance (scaled read counts)", "titleFontSize": 10.5, "titleColor": "#333333", "titlePadding": 12}},
         "color": {"field": "group", "type": "nominal", "scale": {"domain": ["T2D metformin-", "T2D metformin+", "ND CTRL"], "range": ["#FFA500", "#8B0000", "#008B8B"]}, "legend": null}}},
      {"data": {"values": [{"label": "rho = 0.23\nq = 0.078"}]},
       "mark": {"type": "text", "align": "left", "baseline": "middle", "fontSize": 12.5, "lineBreak": "\n", "lineHeight": 14, "color": "black"},
       "encoding": {
         "x": {"datum": 950, "type": "quantitative", "scale": {"domain": [-200, 2050], "nice": false, "zero": false}, "axis": {"values": [0, 500, 1000, 1500, 2000], "format": "d", "labelOverlap": false, "ticks": false, "labelFontSize": 10, "labelColor": "#333333", "labelPadding": 6, "title": "serum metformin (mg/ml)", "titleFontSize": 10, "titleColor": "#333333", "titlePadding": 5}},
         "y": {"datum": 33.0, "type": "quantitative", "scale": {"domain": [-2.33, 42.2], "nice": false, "zero": false}, "axis": {"values": [0, 10, 20, 30, 40], "format": "d", "labelOverlap": false, "tickSize": 3, "tickColor": "#999999", "labelFontSize": 10, "labelColor": "#333333", "labelPadding": 4, "title": "abundance (scaled read counts)", "titleFontSize": 10.5, "titleColor": "#333333", "titlePadding": 12}},
         "text": {"field": "label"}}}
    ]
   },
   {
    "width": 130.5, "height": 128,
    "title": {"text": "propionate metabolism", "subtitle": "(GMM: MF0125)", "fontSize": 14.5, "fontWeight": "bold", "subtitleFontSize": 12.5, "subtitlePadding": -1, "frame": "group", "dx": 0, "offset": -12},
    "layer": [
      {"data": {"name": "scP"},
       "mark": {"type": "circle", "size": 20, "opacity": 1},
       "encoding": {
         "x": {"field": "metformin", "type": "quantitative", "scale": {"domain": [-200, 2050], "nice": false, "zero": false}, "axis": {"values": [0, 500, 1000, 1500, 2000], "format": "d", "labelOverlap": false, "ticks": false, "labelFontSize": 10, "labelColor": "#333333", "labelPadding": 6, "title": "serum metformin (mg/ml)", "titleFontSize": 10, "titleColor": "#333333", "titlePadding": 5}},
         "y": {"field": "abundance", "type": "quantitative", "scale": {"domain": [-2.4, 42.2], "nice": false, "zero": false}, "axis": {"values": [0, 10, 20, 30, 40], "format": "d", "labelOverlap": false, "tickSize": 3, "tickColor": "#999999", "labelFontSize": 10, "labelColor": "#333333", "labelPadding": 4, "title": "abundance (scaled read counts)", "titleFontSize": 10.5, "titleColor": "#333333", "titlePadding": 12}},
         "color": {"field": "group", "type": "nominal", "scale": {"domain": ["T2D metformin-", "T2D metformin+", "ND CTRL"], "range": ["#FFA500", "#8B0000", "#008B8B"]}, "legend": null}}},
      {"data": {"values": [{"label": "rho = 0.27\nq = 0.072"}]},
       "mark": {"type": "text", "align": "left", "baseline": "middle", "fontSize": 12.5, "lineBreak": "\n", "lineHeight": 14, "color": "black"},
       "encoding": {
         "x": {"datum": 950, "type": "quantitative", "scale": {"domain": [-200, 2050], "nice": false, "zero": false}, "axis": {"values": [0, 500, 1000, 1500, 2000], "format": "d", "labelOverlap": false, "ticks": false, "labelFontSize": 10, "labelColor": "#333333", "labelPadding": 6, "title": "serum metformin (mg/ml)", "titleFontSize": 10, "titleColor": "#333333", "titlePadding": 5}},
         "y": {"datum": 35.2, "type": "quantitative", "scale": {"domain": [-2.4, 42.2], "nice": false, "zero": false}, "axis": {"values": [0, 10, 20, 30, 40], "format": "d", "labelOverlap": false, "tickSize": 3, "tickColor": "#999999", "labelFontSize": 10, "labelColor": "#333333", "labelPadding": 4, "title": "abundance (scaled read counts)", "titleFontSize": 10.5, "titleColor": "#333333", "titlePadding": 12}},
         "text": {"field": "label"}}}
    ]
   }
  ]
 }
]
}
